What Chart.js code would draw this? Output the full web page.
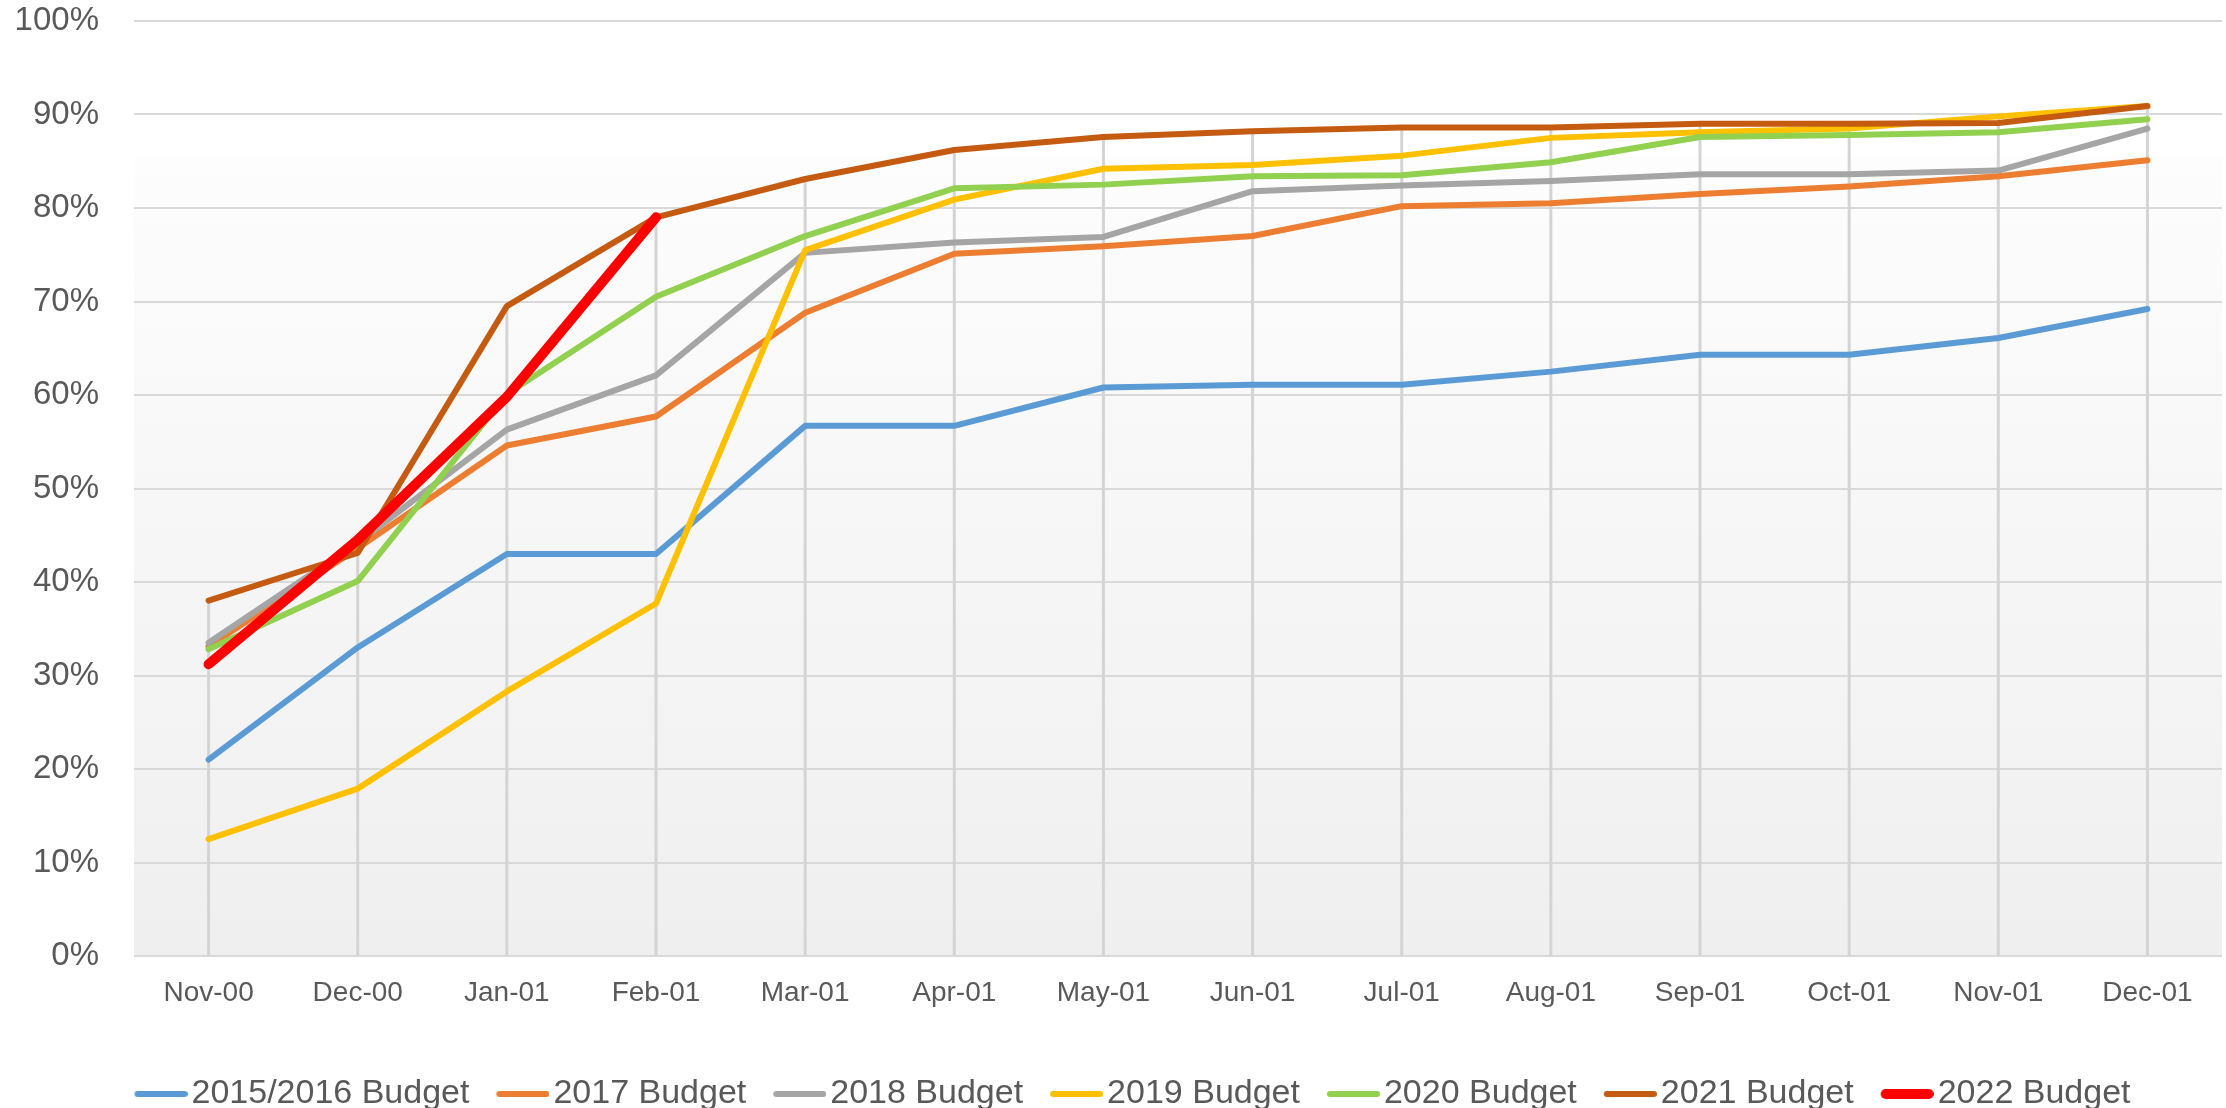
<!DOCTYPE html>
<html>
<head>
<meta charset="utf-8">
<title>Budget chart</title>
<script src="https://cdn.jsdelivr.net/npm/chart.js@4"></script>
<style>
  html, body { margin: 0; padding: 0; background: #ffffff; overflow: hidden; }
  #wrap { width: 2226px; height: 1121px; position: relative; }
</style>
</head>
<body>
<div id="wrap"><canvas id="chart"></canvas></div>
<script>
// month labels along the bottom
const months = ['Nov-00', 'Dec-00', 'Jan-01', 'Feb-01', 'Mar-01', 'Apr-01', 'May-01',
  'Jun-01', 'Jul-01', 'Aug-01', 'Sep-01', 'Oct-01', 'Nov-01', 'Dec-01'];

// percent values
const budget2015_16 = [21.0, 33.0, 43.0, 43.0, 56.7, 56.7, 60.8, 61.1, 61.1, 62.5, 64.3, 64.3, 66.1, 69.2];
const budget2017 = [33.1, 43.6, 54.6, 57.7, 68.8, 75.1, 75.9, 77.0, 80.2, 80.5, 81.5, 82.3, 83.4, 85.1];
const budget2018 = [33.5, 44.2, 56.3, 62.1, 75.2, 76.3, 76.9, 81.8, 82.4, 82.9, 83.6, 83.6, 84.0, 88.5];
const budget2019 = [12.5, 17.9, 28.3, 37.7, 75.5, 80.9, 84.2, 84.6, 85.6, 87.5, 88.1, 88.5, 89.8, 90.9];
const budget2020 = [32.8, 40.1, 60.1, 70.5, 77.0, 82.1, 82.5, 83.4, 83.5, 84.9, 87.6, 87.8, 88.1, 89.5];
const budget2021 = [38.0, 43.1, 69.5, 79.0, 83.1, 86.2, 87.6, 88.2, 88.6, 88.6, 89.0, 89.0, 89.1, 90.9];
const budget2022 = [31.2, 44.5, 59.8, 79.0, null, null, null, null, null, null, null, null, null, null];

const seriesNames = ['2015/2016 Budget', '2017 Budget', '2018 Budget', '2019 Budget',
  '2020 Budget', '2021 Budget', '2022 Budget'];
const seriesColors = ['#5B9BD5', '#ED7D31', '#A5A5A5', '#FFC000', '#92D050', '#C55A11', '#FF0000'];
const seriesData = [budget2015_16, budget2017, budget2018, budget2019, budget2020, budget2021, budget2022];

const textColor = '#595959';
const gridColor = '#d9d9d9';

// legend swatch: a short thick line, drawn a bit longer than the legend box
function makeSwatch(color, width) {
  const c = document.createElement('canvas');
  c.width = 66;
  c.height = 14;
  const g = c.getContext('2d');
  g.strokeStyle = color;
  g.lineWidth = width;
  g.lineCap = 'round';
  g.beginPath();
  g.moveTo(13 + width / 2, 7);
  g.lineTo(66 - width / 2, 7);
  g.stroke();
  return c;
}

// plot area fill: white on top, fading to light grey at the bottom
const backgroundPlugin = {
  id: 'plotBackground',
  beforeDraw(chart) {
    const { ctx, chartArea, scales } = chart;
    const startY = scales.y.getPixelForValue(85.5);
    const grad = ctx.createLinearGradient(0, startY, 0, chartArea.bottom);
    grad.addColorStop(0, '#fdfdfd');
    grad.addColorStop(1, '#efefef');
    ctx.save();
    ctx.fillStyle = grad;
    ctx.fillRect(chartArea.left, startY, chartArea.right - chartArea.left, chartArea.bottom - startY);
    ctx.restore();
  }
};

// drop lines from the highest value of each month down to the axis
const dropLinesPlugin = {
  id: 'dropLines',
  beforeDatasetsDraw(chart) {
    const { ctx, scales } = chart;
    ctx.save();
    ctx.strokeStyle = '#d4d4d4';
    ctx.lineWidth = 3;
    months.forEach((m, i) => {
      const vals = seriesData.map(s => s[i]).filter(v => v !== null);
      const top = Math.max(...vals);
      const x = scales.x.getPixelForValue(i);
      ctx.beginPath();
      ctx.moveTo(x, scales.y.getPixelForValue(top));
      ctx.lineTo(x, scales.y.getPixelForValue(0));
      ctx.stroke();
    });
    ctx.restore();
  }
};

// the original legend sits a little right of centre
const legendShift = {
  id: 'legendShift',
  afterLayout(chart) {
    if (chart.legend) {
      chart.legend.left += 14;
      chart.legend.right += 14;
    }
  }
};

const datasets = seriesData.map((data, i) => {
  const w = i === 6 ? 10 : 6;
  return {
    label: seriesNames[i],
    data: data,
    borderColor: seriesColors[i],
    backgroundColor: seriesColors[i],
    borderWidth: w,
    borderCapStyle: 'round',
    borderJoinStyle: 'round',
    pointRadius: 0,
    pointHoverRadius: 0,
    pointStyle: makeSwatch(seriesColors[i], w),
    tension: 0,
    fill: false,
    order: seriesData.length - 1 - i
  };
});

new Chart(document.getElementById('chart'), {
  type: 'line',
  data: { labels: months, datasets: datasets },
  plugins: [backgroundPlugin, dropLinesPlugin, legendShift],
  options: {
    responsive: true,
    maintainAspectRatio: false,
    animation: false,
    layout: { padding: { left: 15, right: 4, top: 0, bottom: 0 } },
    plugins: {
      tooltip: { enabled: false },
      legend: {
        position: 'bottom',
        align: 'center',
        labels: {
          usePointStyle: true,
          pointStyleWidth: 40,
          padding: 27,
          color: textColor,
          font: { family: 'Liberation Sans', size: 34 },
          sort: (a, b) => a.datasetIndex - b.datasetIndex
        }
      }
    },
    scales: {
      x: {
        offset: true,
        grid: { display: false, drawTicks: false },
        border: { display: false },
        ticks: {
          color: textColor,
          padding: 20,
          maxRotation: 0,
          autoSkip: false,
          font: { family: 'Liberation Sans', size: 28 }
        },
        afterFit(scale) { scale.height = 94; }
      },
      y: {
        min: 0,
        max: 100,
        grid: { color: gridColor, lineWidth: 2, drawTicks: false },
        border: { display: false },
        ticks: {
          stepSize: 10,
          padding: 35,
          color: textColor,
          font: { family: 'Liberation Sans', size: 33 },
          callback: v => v + '%'
        },
        afterFit(scale) {
          scale.width = 119;
          scale.paddingTop = 21;
          scale.paddingBottom = 0;
        }
      }
    }
  }
});
</script>
</body>
</html>
